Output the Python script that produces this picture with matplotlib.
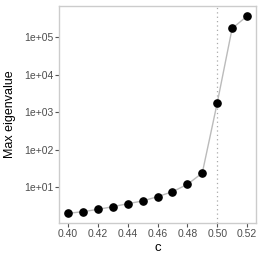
import matplotlib
matplotlib.use("Agg")
import matplotlib.pyplot as plt
from matplotlib.ticker import FixedLocator, NullLocator

plt.rcParams["font.family"] = ["Liberation Sans", "DejaVu Sans"]

# 数据：c 与最大特征值
c_vals = [0.40, 0.41, 0.42, 0.43, 0.44, 0.45, 0.46, 0.47, 0.48, 0.49, 0.50, 0.51, 0.52]
max_eig = [2.03, 2.25, 2.59, 3.05, 3.67, 4.34, 5.65, 7.67, 12.0, 24.2, 1780, 174000, 372000]
x_ticks = [0.40, 0.42, 0.44, 0.46, 0.48, 0.50, 0.52]
y_ticks = [1e1, 1e2, 1e3, 1e4, 1e5]
y_labels = ["1e+01", "1e+02", "1e+03", "1e+04", "1e+05"]
c_crit = 0.50

fig = plt.figure(figsize=(2.63, 2.63), dpi=100)
ax = fig.add_axes([59 / 263, 40 / 263, 197 / 263, 217 / 263])

ax.axvline(c_crit, color="#AAAAAA", linestyle=(0, (1, 2.5)), linewidth=0.9, zorder=1)
ax.plot(c_vals, max_eig, color="#BBBBBB", linewidth=1.0, zorder=2)
ax.plot(c_vals, max_eig, "o", color="black", markersize=5.2, zorder=3)

ax.set_yscale("log")
ax.set_xlim(0.394, 0.526)
ax.set_ylim(10 ** 0.05, 10 ** 5.84)
ax.xaxis.set_major_locator(FixedLocator(x_ticks))
ax.set_xticklabels([f"{v:.2f}" for v in x_ticks])
ax.yaxis.set_major_locator(FixedLocator(y_ticks))
ax.yaxis.set_minor_locator(NullLocator())
ax.set_yticklabels(y_labels)

for s in ax.spines.values():
    s.set_color("#CCCCCC")
    s.set_linewidth(1.0)
ax.tick_params(axis="both", which="major", length=2.7, width=0.8, color="#555555",
               labelcolor="#4D4D4D", labelsize=7.5, pad=1.5)

ax.set_xlabel("c", fontsize=9.5, labelpad=2)
ax.set_ylabel("Max eigenvalue", fontsize=9, labelpad=5.5)

plt.savefig("out.png", dpi=100)
